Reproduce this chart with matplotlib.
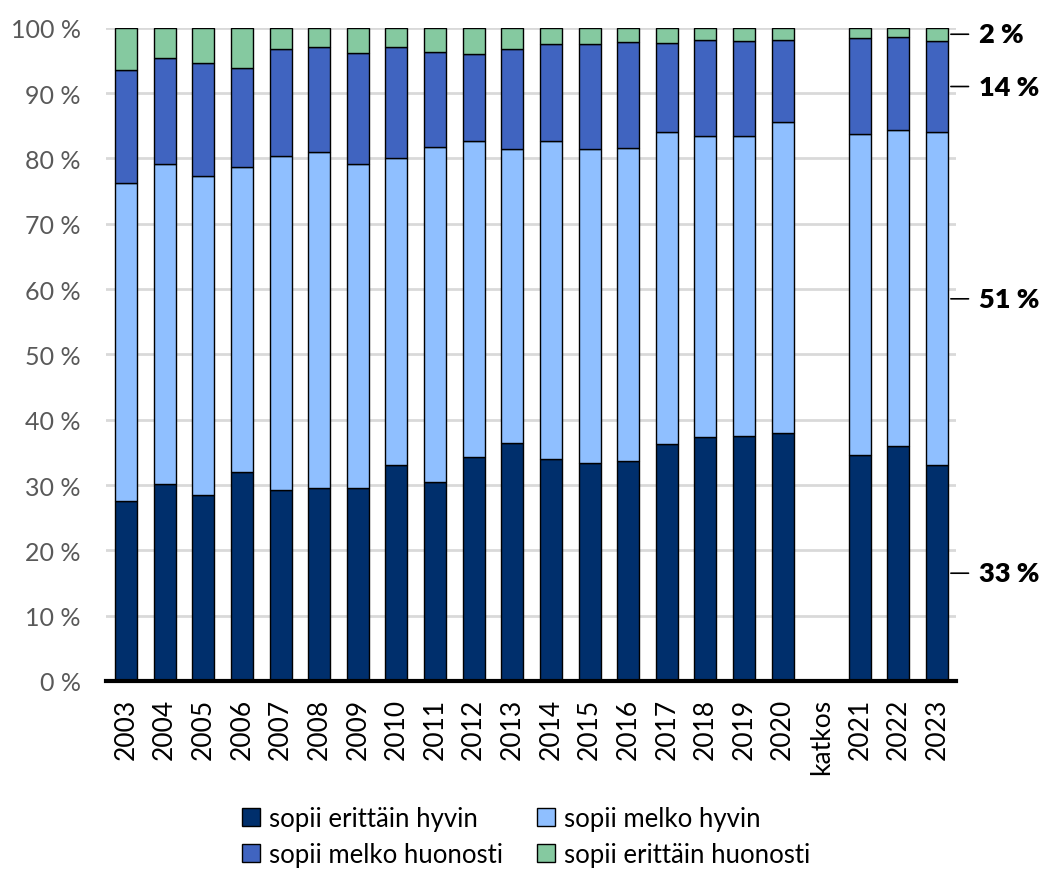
import numpy as np
import matplotlib
matplotlib.use("Agg")
import matplotlib.pyplot as plt
from matplotlib.patches import Patch

plt.rcParams['font.family'] = ['Lato', 'DejaVu Sans']

categories = ["2003", "2004", "2005", "2006", "2007", "2008", "2009", "2010",
              "2011", "2012", "2013", "2014", "2015", "2016", "2017", "2018",
              "2019", "2020", "katkos", "2021", "2022", "2023"]

nan = np.nan
erittain_hyvin = [27.6, 30.1, 28.4, 32.0, 29.3, 29.6, 29.6, 33.1, 30.5, 34.3, 36.4,
                  34.0, 33.4, 33.7, 36.3, 37.3, 37.5, 37.9, nan, 34.6, 35.9, 33.0]
melko_hyvin = [48.6, 49.1, 48.9, 46.7, 51.0, 51.4, 49.5, 46.9, 51.3, 48.4, 45.1,
               48.6, 48.0, 47.9, 47.8, 46.1, 45.9, 47.6, nan, 49.2, 48.5, 51.0]
melko_huonosti = [17.4, 16.2, 17.3, 15.1, 16.4, 16.0, 17.0, 17.1, 14.5, 13.3, 15.2,
                  14.9, 16.1, 16.2, 13.5, 14.7, 14.5, 12.6, nan, 14.6, 14.2, 14.0]
erittain_huonosti = [6.4, 4.6, 5.4, 6.2, 3.3, 3.0, 3.9, 2.9, 3.7, 4.0, 3.3,
                     2.5, 2.5, 2.2, 2.4, 1.9, 2.1, 1.9, nan, 1.6, 1.4, 2.0]

series_names = ["sopii erittäin hyvin", "sopii melko hyvin",
                "sopii melko huonosti", "sopii erittäin huonosti"]
colors = ["#002F6C", "#8FBFFF", "#4064C0", "#85C9A0"]

y_ticks = list(range(0, 101, 10))
y_tick_labels = [f"{v} %" for v in y_ticks]

fig = plt.figure(figsize=(10.42, 8.70), dpi=100)
ax = fig.add_axes([0.1017, 0.2161, 0.8158, 0.7509])

x = np.arange(len(categories))
series = [erittain_hyvin, melko_hyvin, melko_huonosti, erittain_huonosti]
bottom = np.zeros(len(categories))
bar_w = 0.57
for vals, col, name in zip(series, colors, series_names):
    v = np.array(vals, dtype=float)
    ax.bar(x, np.nan_to_num(v), bar_w, bottom=bottom, color=col,
           edgecolor="black", linewidth=1.0, label=name, zorder=3)
    bottom = bottom + np.nan_to_num(v)

ax.set_xlim(-0.52, len(categories) - 0.51)
ax.set_ylim(0, 100)
ax.set_yticks(y_ticks)
ax.set_yticklabels(y_tick_labels, fontsize=18, color="#595959")
ax.set_xticks(x)
ax.set_xticklabels(categories, rotation=90, fontsize=19, color="black")
ax.tick_params(axis="y", length=0, pad=18)
ax.tick_params(axis="x", length=0, pad=12)
ax.grid(axis="y", color="#D9D9D9", linewidth=2, zorder=0)
for s in ["left", "right", "top"]:
    ax.spines[s].set_visible(False)
ax.spines["bottom"].set_linewidth(3)
ax.spines["bottom"].set_color("black")
ax.spines["bottom"].set_zorder(5)

# value labels for the last year, at the middle of each segment
last = len(categories) - 1
cum = 0.0
right_edge = last + bar_w / 2
for vals in series:
    v = vals[last]
    mid = cum + v / 2
    cum += v
    ax.annotate("", xy=(right_edge, mid), xytext=(right_edge + 0.6, mid),
                arrowprops=dict(arrowstyle="-", color="black", lw=1.2),
                annotation_clip=False)
    ax.text(right_edge + 0.8, mid, f"{round(v):d} %", fontsize=19.5,
            fontweight="heavy", va="center", ha="left", clip_on=False)

# two-column legend filled row by row
handles = [Patch(facecolor=c, edgecolor="black", linewidth=1.0) for c in colors]
order = [0, 2, 1, 3]
fig.legend([handles[i] for i in order], [series_names[i] for i in order],
           loc="upper center", bbox_to_anchor=(0.505, 1 - 792 / 870), ncol=2,
           frameon=False, fontsize=18.5, handlelength=0.7, handleheight=0.7,
           handletextpad=0.35, columnspacing=1.3, labelspacing=0.42,
           borderaxespad=0.2)

fig.savefig("out.png", dpi=100)
